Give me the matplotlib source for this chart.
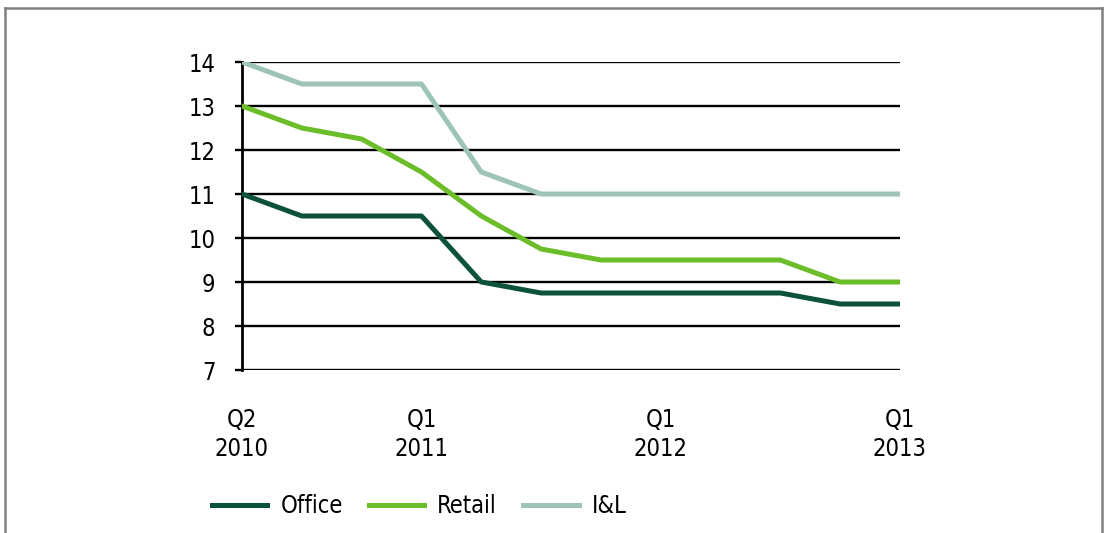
import matplotlib
matplotlib.use("Agg")
import matplotlib.pyplot as plt
from matplotlib.lines import Line2D

plt.rcParams['font.family'] = ['DejaVu Sans']
plt.rcParams['font.stretch'] = 'condensed'

quarters = ["Q2 2010", "Q3 2010", "Q4 2010", "Q1 2011", "Q2 2011", "Q3 2011",
            "Q4 2011", "Q1 2012", "Q2 2012", "Q3 2012", "Q4 2012", "Q1 2013"]
office = [11, 10.5, 10.5, 10.5, 9, 8.75, 8.75, 8.75, 8.75, 8.75, 8.5, 8.5]
retail = [13, 12.5, 12.25, 11.5, 10.5, 9.75, 9.5, 9.5, 9.5, 9.5, 9, 9]
il = [14, 13.5, 13.5, 13.5, 11.5, 11, 11, 11, 11, 11, 11, 11]

tick_idx = [0, 3, 7, 11]
tick_labels = ["Q2\n2010", "Q1\n2011", "Q1\n2012", "Q1\n2013"]

series = [("Office", office, "#0b5238"),
          ("Retail", retail, "#6bbe2a"),
          ("I&L", il, "#9dc4b7")]

fig = plt.figure(figsize=(11.07, 5.33), dpi=100)
ax = fig.add_axes([242/1107, 1-370/533, (900-242)/1107, (370-62)/533])

x = list(range(len(quarters)))
for name, vals, col in series:
    ax.plot(x, vals, color=col, lw=3.6, label=name, solid_capstyle="round", zorder=3)

ax.set_xlim(0, len(quarters)-1)
ax.set_ylim(7, 14)
ax.set_yticks(range(7, 15))
ax.yaxis.grid(True, color="black", lw=1.7)
ax.set_axisbelow(True)
ax.set_xticks(tick_idx)
ax.set_xticklabels(tick_labels, fontsize=17, linespacing=1.3)
ax.tick_params(axis="x", length=0, pad=27)
ax.tick_params(axis="y", length=5, width=1.7, labelsize=17, pad=14)
for s in ["top", "right", "bottom"]:
    ax.spines[s].set_visible(False)
ax.spines["left"].set_linewidth(2)

handles = [Line2D([], [], color=c, lw=3.6) for _, _, c in series]
fig.legend(handles, [n for n, _, _ in series], loc="center left",
           bbox_to_anchor=(212/1107, 1-506/533), bbox_transform=fig.transFigure,
           ncol=3, frameon=False, fontsize=17, handlelength=2.35,
           handletextpad=0.55, columnspacing=1.1, borderpad=0, borderaxespad=0)

# outer frame (open at bottom)
frame_col = "#808080"
fig.add_artist(Line2D([5/1107, 5/1107], [0, 1-8/533], color=frame_col, lw=1.8, transform=fig.transFigure))
fig.add_artist(Line2D([1102/1107, 1102/1107], [0, 1-8/533], color=frame_col, lw=1.8, transform=fig.transFigure))
fig.add_artist(Line2D([5/1107, 1102/1107], [1-8/533, 1-8/533], color=frame_col, lw=1.8, transform=fig.transFigure))

fig.savefig("out.png", dpi=100)
